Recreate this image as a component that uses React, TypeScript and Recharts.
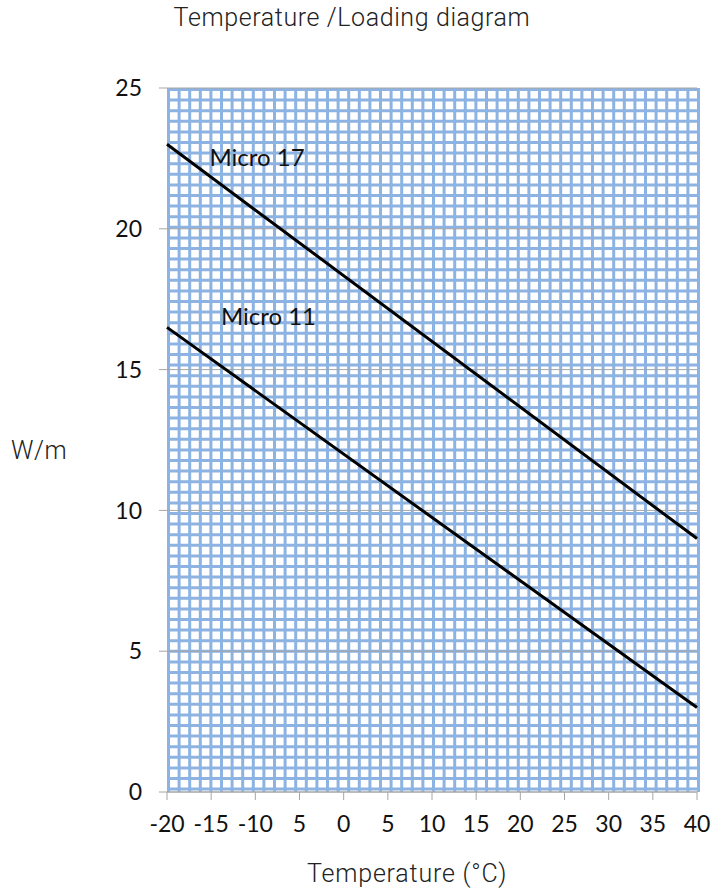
import React from 'react'
import {
  LineChart, Line, XAxis, YAxis, CartesianGrid, ReferenceDot, Label
} from 'recharts'

const temps = [-20, 40]
const micro17 = [23, 9]
const micro11 = [16.5, 3]

const xTicks = [-20, -15, -10, -5, 0, 5, 10, 15, 20, 25, 30, 35, 40]
const xTickLabels = ['-20', '-15', '-10', '5', '0', '5', '10', '15', '20', '25', '30', '35', '40']
const yTicks = [0, 5, 10, 15, 20, 25]

// background graph paper: 50 columns, 66 rows of squares
const paperCols = 50
const paperRows = 66

const seriesLabels = [
  { name: 'Micro 17', x: -15.2, y: 22.55 },
  { name: 'Micro 11', x: -13.9, y: 16.9 },
]

const data = temps.map((t, i) => ({ t, micro17: micro17[i], micro11: micro11[i] }))

const calibri = 'Lato, "Liberation Sans", sans-serif'
const din = 'Roboto, "Open Sans", sans-serif'

const paperX = ({ offset }: any) =>
  Array.from({ length: paperCols + 1 }, (_, i) => offset.left + 1.5 + (offset.width / paperCols) * i)
const paperY = ({ offset }: any) =>
  Array.from({ length: paperRows + 1 }, (_, i) => offset.top + 1.5 + (offset.width / paperCols) * i)

export default function App() {
  return (
    <div style={{ position: 'absolute', left: 0, top: 0, width: 722, height: 892, background: '#fff' }}>
      <div style={{ position: 'absolute', left: 0, top: 3, width: 704, textAlign: 'center', fontFamily: din, fontSize: 25, fontWeight: 300, letterSpacing: 0.6, color: '#222' }}>
        Temperature /Loading diagram
      </div>
      <div style={{ position: 'absolute', left: 11, top: 436, fontFamily: din, fontSize: 25, fontWeight: 300, letterSpacing: 0.6, color: '#222' }}>
        W/m
      </div>
      <div style={{ position: 'absolute', left: 307, top: 859, fontFamily: din, fontSize: 25, fontWeight: 300, letterSpacing: 0.8, color: '#222' }}>
        Temperature (°C)
      </div>

      <LineChart
        width={722}
        height={892}
        data={data}
        margin={{ top: 88, right: 25, bottom: 60, left: 107 }}
      >
        <CartesianGrid
          stroke="#8db3e2"
          strokeWidth={3}
          verticalCoordinatesGenerator={paperX}
          horizontalCoordinatesGenerator={paperY}
        />

        <XAxis
          dataKey="t"
          type="number"
          domain={[-20, 40]}
          ticks={xTicks}
          interval={0}
          height={40}
          tickFormatter={(v: number) => xTickLabels[xTicks.indexOf(v)] ?? String(v)}
          axisLine={{ stroke: '#a6a6a6' }}
          tickLine={{ stroke: '#a6a6a6' }}
          tickSize={8}
          tick={{ fill: '#111', fontSize: 23, fontFamily: calibri }}
          dy={14}
        />
        <YAxis
          type="number"
          domain={[0, 25]}
          ticks={yTicks}
          interval={0}
          width={60}
          axisLine={false}
          tickLine={{ stroke: '#a6a6a6' }}
          tickSize={8}
          tick={{ fill: '#111', fontSize: 23, fontFamily: calibri }}
          dx={-15}
        />
        <CartesianGrid vertical={false} stroke="#a6a6a6" strokeWidth={1} />

        <Line dataKey="micro17" stroke="#000" strokeWidth={3} dot={false} isAnimationActive={false} />
        <Line dataKey="micro11" stroke="#000" strokeWidth={3} dot={false} isAnimationActive={false} />

        {seriesLabels.map(s => (
          <ReferenceDot key={s.name} x={s.x} y={s.y} r={0} stroke="none" fill="none">
            <Label
              value={s.name}
              position="right"
              offset={0}
              style={{ fill: '#111', fontSize: 24, fontFamily: calibri }}
            />
          </ReferenceDot>
        ))}
      </LineChart>
    </div>
  )
}
